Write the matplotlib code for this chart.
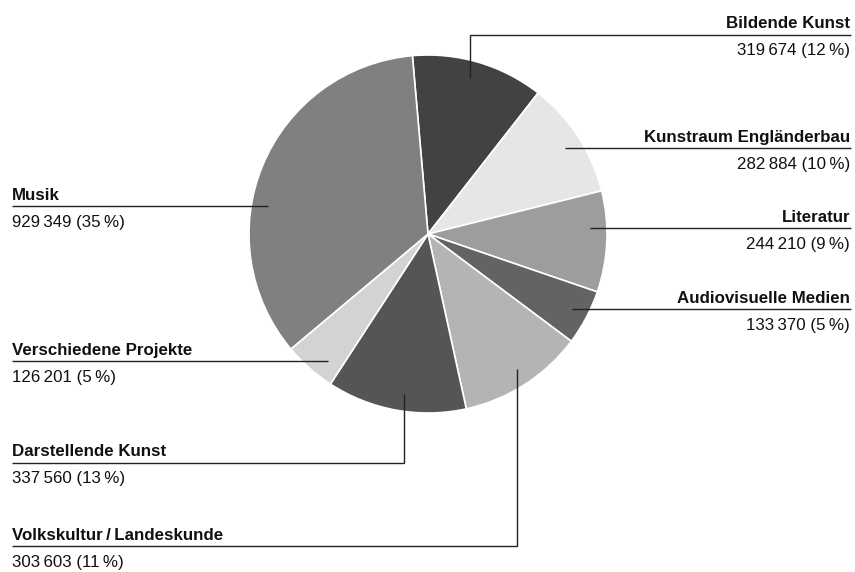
import numpy as np
import matplotlib
matplotlib.use("Agg")
import matplotlib.pyplot as plt

# Förderungen nach Sparte
categories = ["Bildende Kunst", "Kunstraum Engländerbau", "Literatur",
              "Audiovisuelle Medien", "Volkskultur\u2009/\u2009Landeskunde",
              "Darstellende Kunst", "Verschiedene Projekte", "Musik"]
values = [319674, 282884, 244210, 133370, 303603, 337560, 126201, 929349]
percent_labels = ["12", "10", "9", "5", "11", "13", "5", "35"]
colors = ["#434240", "#e6e6e6", "#9c9d9c", "#636361",
          "#b3b4b5", "#555555", "#d2d3d2", "#808080"]

W, H = 855, 572
plt.rcParams["font.family"] = ["Liberation Sans", "DejaVu Sans"]

fig = plt.figure(figsize=(W / 100, H / 100), dpi=100)
ax = fig.add_axes([0, 0, 1, 1])

cx, cy, R = 428, H - 234, 179
ax.pie(values, colors=colors, startangle=95, counterclock=False,
       center=(cx, cy), radius=R, frame=True,
       wedgeprops=dict(edgecolor="white", linewidth=1.2))
ax.set_xlim(0, W)
ax.set_ylim(0, H)
ax.set_aspect("equal")
ax.axis("off")


def fmt(v):
    return f"{v:,}".replace(",", "\u2009")


# leader lines: anchor angle inside slice, route side, and y (image px) of the bend
anchor_angle = [75, 32, 2, -27.5, -56.5, -98.4, -128.3, 170]
routes = [("right", 34.5), ("right", None), ("right", None), ("right", None),
          ("left", 546), ("left", 462.5), ("left", None), ("left", None)]
x_left, x_right = 12, 851
lc = "#222222"

for i, (name, v) in enumerate(zip(categories, values)):
    a = np.deg2rad(anchor_angle[i])
    px = cx + 0.905 * R * np.cos(a)
    py = cy + 0.905 * R * np.sin(a)
    side, bend = routes[i]
    if bend is None:
        ly = py
        xs = [px, x_right] if side == "right" else [x_left, px]
        ys = [ly, ly]
    else:
        ly = H - bend
        xend = x_right if side == "right" else x_left
        xs, ys = [px, px, xend], [py, ly, ly]
    ax.plot(xs, ys, color=lc, lw=1.0, solid_capstyle="butt",
            solid_joinstyle="miter")
    tx = x_right - 1 if side == "right" else x_left
    ha = "right" if side == "right" else "left"
    ax.text(tx, ly + 6, name, ha=ha, va="baseline", fontsize=12.2,
            fontweight="bold", color="#111111")
    ax.text(tx, ly - 21, f"{fmt(v)} ({percent_labels[i]}\u2009%)", ha=ha,
            va="baseline", fontsize=12.2, color="#111111")

fig.savefig("out.png", dpi=100)
